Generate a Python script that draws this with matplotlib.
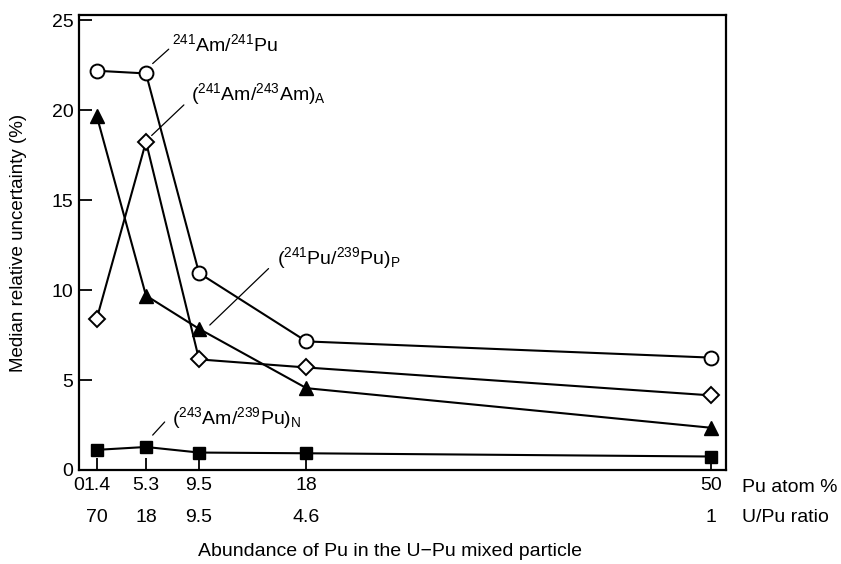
import matplotlib
matplotlib.use("Agg")
import matplotlib.pyplot as plt
import matplotlib.transforms as mtransforms

plt.rcParams['font.family'] = ['Liberation Sans', 'DejaVu Sans']
plt.rcParams['mathtext.fontset'] = 'custom'
plt.rcParams['mathtext.rm'] = 'Liberation Sans'
plt.rcParams['mathtext.it'] = 'Liberation Sans:italic'
plt.rcParams['mathtext.bf'] = 'Liberation Sans:bold'

# Pu atom % (x positions) and U/Pu ratio labels
pu_atom = [1.4, 5.3, 9.5, 18, 50]
pu_labels = ['1.4', '5.3', '9.5', '18', '50']
u_pu_labels = ['70', '18', '9.5', '4.6', '1']

# median relative uncertainty (%)
am241_pu241 = [22.2, 22.05, 10.95, 7.15, 6.25]
am241_am243 = [8.4, 18.25, 6.15, 5.7, 4.15]
pu241_pu239 = [19.7, 9.7, 7.85, 4.55, 2.35]
am243_pu239 = [1.12, 1.28, 0.97, 0.93, 0.75]

fig = plt.figure(figsize=(8.41, 5.64), dpi=100)
ax = fig.add_axes([79 / 841, 1 - 470 / 564, (726 - 79) / 841, (470 - 15) / 564])

lw = 1.5
ax.plot(pu_atom, am241_pu241, '-o', color='black', lw=lw, ms=10,
        mfc='white', mec='black', mew=1.4)
ax.plot(pu_atom, am241_am243, '-D', color='black', lw=lw, ms=8.5,
        mfc='white', mec='black', mew=1.4)
ax.plot(pu_atom, pu241_pu239, '-^', color='black', lw=lw, ms=9.5,
        mfc='black', mec='black')
ax.plot(pu_atom, am243_pu239, '-s', color='black', lw=lw, ms=9,
        mfc='black', mec='black')

ax.set_xlim(0, 51.2)
ax.set_ylim(0, 25.3)

fs = 14
ax.set_yticks([0, 5, 10, 15, 20, 25])
ax.set_xticks([0] + pu_atom)
ax.set_xticklabels(['0'] + pu_labels)
ax.tick_params(axis='both', direction='in', length=9, width=1.3, labelsize=fs)
ax.tick_params(axis='x', pad=5)
ax.tick_params(axis='y', pad=4)
for s in ax.spines.values():
    s.set_linewidth(1.6)

# second row of x labels: U/Pu ratio
trans = mtransforms.blended_transform_factory(ax.transData, ax.transAxes)
row1_y = -(487 - 470) / 455
row2_y = -(518 - 470) / 455
for x, lab in zip(pu_atom, u_pu_labels):
    ax.text(x, row2_y, lab, transform=trans, ha='center', va='center', fontsize=fs)
ax.text(1.025, row1_y, 'Pu atom %', transform=ax.transAxes,
        ha='left', va='center', fontsize=fs)
ax.text(1.025, row2_y, 'U/Pu ratio', transform=ax.transAxes,
        ha='left', va='center', fontsize=fs)

ax.set_ylabel('Median relative uncertainty (%)', fontsize=13.5, labelpad=18)
fig.text(390 / 841, 1 - 551 / 564, 'Abundance of Pu in the U\u2212Pu mixed particle',
         ha='center', va='center', fontsize=14)

# series labels with thin leader lines
labels = [
    (r'$^{241}$Am/$^{241}$Pu', (7.35, 23.7), (5.83, 22.6), (7.1, 23.4)),
    (r'($^{241}$Am/$^{243}$Am)$_{\mathrm{A}}$', (8.9, 20.9), (5.75, 18.6), (8.3, 20.3)),
    (r'($^{241}$Pu/$^{239}$Pu)$_{\mathrm{P}}$', (15.65, 11.8), (10.35, 8.06), (15.0, 11.2)),
    (r'($^{243}$Am/$^{239}$Pu)$_{\mathrm{N}}$', (7.35, 2.9), (5.83, 1.94), (6.78, 2.67)),
]
for txt, pos, p0, p1 in labels:
    ax.text(pos[0], pos[1], txt, fontsize=fs, ha='left', va='center')
    ax.annotate('', xy=p0, xytext=p1,
                arrowprops=dict(arrowstyle='-', color='black', lw=0.9,
                                shrinkA=0, shrinkB=0))

fig.savefig('out.png', dpi=100)
